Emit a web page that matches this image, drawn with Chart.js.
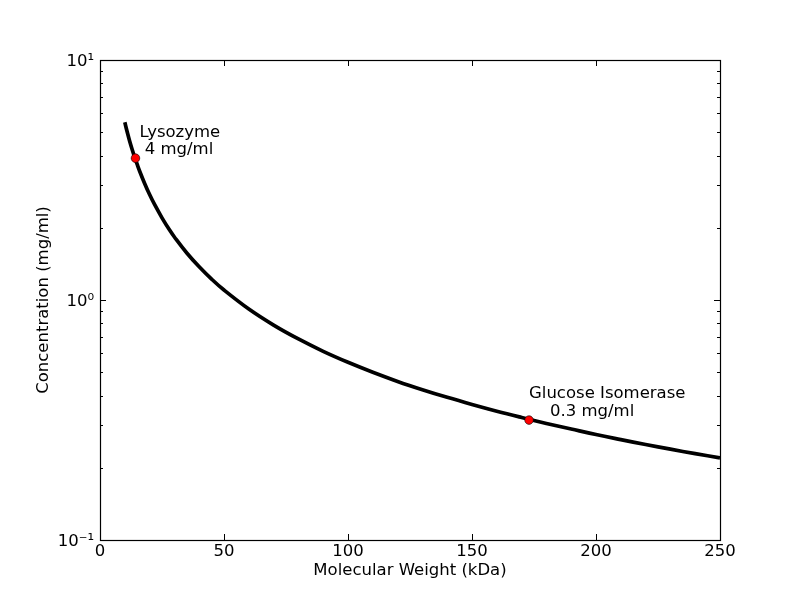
<!DOCTYPE html>
<html>
<head>
<meta charset="utf-8">
<script src="https://cdn.jsdelivr.net/npm/chart.js@4"></script>
<style>
  body { margin: 0; background: #fff; }
  #wrap { width: 800px; height: 600px; }
</style>
</head>
<body>
<div id="wrap"><canvas id="myChart" width="800" height="600"></canvas></div>
<script>
// curve (kDa -> mg/ml)
const curveWeights = [10, 11, 12, 13, 14, 15, 16, 18, 20, 22, 25, 28, 30, 35, 40, 45, 50, 60, 70, 80, 90, 100,
    110, 120, 130, 140, 150, 160, 170, 180, 190, 200, 210, 220, 230, 240, 250];
const curveConc = [5.5, 5.0, 4.58, 4.23, 3.93, 3.67, 3.44, 3.06, 2.75, 2.5, 2.2, 1.96, 1.83, 1.57, 1.375, 1.222, 1.1, 0.917, 0.786, 0.688, 0.611, 0.55,
    0.5, 0.458, 0.423, 0.393, 0.367, 0.344, 0.324, 0.306, 0.29, 0.275, 0.262, 0.25, 0.239, 0.229, 0.22];

// marked proteins
const proteinNames = ['Lysozyme', 'Glucose Isomerase'];
const proteinLabels = [' 4 mg/ml', '    0.3 mg/ml'];
const proteinWeights = [14.3, 173];
const proteinConc = [3.9, 0.316];

// axis ticks
const xTicks = [0, 50, 100, 150, 200, 250];
const yTickValues = [0.1, 0.2, 0.3, 0.4, 0.5, 0.6, 0.7, 0.8, 0.9, 1, 2, 3, 4, 5, 6, 7, 8, 9, 10];
const yMajorValues = [0.1, 1, 10];
const yMajorLabels = ['10\u207B\u00B9', '10\u2070', '10\u00B9'];

// pixel offsets of the annotation text from its point
const labelOffsets = [
    { dx: 4, dy: -21, gap: 16.5 },
    { dx: 0, dy: -22, gap: 18 },
];

const FONT = 'DejaVu Sans';
const FONT_SIZE = 16.5;
Chart.defaults.font.family = FONT;
Chart.defaults.font.size = FONT_SIZE;
Chart.defaults.color = '#000';

const frameAndTicks = {
    id: 'frameAndTicks',
    afterDatasetsDraw(chart) {
        const { ctx, chartArea: a, scales } = chart;
        ctx.save();
        ctx.strokeStyle = '#000';
        ctx.lineWidth = 1;
        ctx.beginPath();
        scales.x.ticks.forEach(t => {
            const px = Math.round(scales.x.getPixelForValue(t.value)) + 0.5;
            ctx.moveTo(px, a.bottom); ctx.lineTo(px, a.bottom - 6);
            ctx.moveTo(px, a.top); ctx.lineTo(px, a.top + 6);
        });
        scales.y.ticks.forEach(t => {
            const py = Math.round(scales.y.getPixelForValue(t.value)) + 0.5;
            const len = yMajorValues.some(v => Math.abs(v - t.value) < 1e-9) ? 6 : 3;
            ctx.moveTo(a.left, py); ctx.lineTo(a.left + len, py);
            ctx.moveTo(a.right, py); ctx.lineTo(a.right - len, py);
        });
        ctx.stroke();
        ctx.lineWidth = 1.2;
        ctx.strokeRect(Math.round(a.left) + 0.5, Math.round(a.top) + 0.5,
            Math.round(a.right - a.left), Math.round(a.bottom - a.top));

        // annotations
        ctx.fillStyle = '#000';
        ctx.font = FONT_SIZE + 'px "' + FONT + '"';
        ctx.textAlign = 'left';
        ctx.textBaseline = 'alphabetic';
        proteinNames.forEach((name, i) => {
            const px = scales.x.getPixelForValue(proteinWeights[i]) + labelOffsets[i].dx;
            const py = scales.y.getPixelForValue(proteinConc[i]) + labelOffsets[i].dy;
            ctx.fillText(name, px, py);
            ctx.fillText(proteinLabels[i], px, py + labelOffsets[i].gap);
        });
        ctx.restore();
    },
};

const createChart = () => {
    const ctx = document.getElementById('myChart').getContext('2d');
    new Chart(ctx, {
        type: 'scatter',
        data: {
            datasets: [
                {
                    label: 'curve',
                    data: curveWeights.map((w, i) => ({ x: w, y: curveConc[i] })),
                    showLine: true,
                    borderColor: '#000',
                    borderWidth: 3.7,
                    pointRadius: 0,
                    tension: 0.4,
                    order: 2,
                },
                {
                    label: 'proteins',
                    data: proteinWeights.map((w, i) => ({ x: w, y: proteinConc[i] })),
                    showLine: false,
                    backgroundColor: '#ff0000',
                    borderColor: '#000',
                    borderWidth: 0.6,
                    pointRadius: 4.3,
                    order: 1,
                },
            ],
        },
        options: {
            responsive: false,
            animation: false,
            layout: { padding: { top: 60, right: 80, left: 0, bottom: 0 } },
            plugins: {
                legend: { display: false },
                tooltip: { enabled: false },
            },
            scales: {
                x: {
                    type: 'linear',
                    min: 0,
                    max: 250,
                    afterBuildTicks: s => { s.ticks = xTicks.map(v => ({ value: v })); },
                    afterFit: s => { s.height = 60; },
                    grid: { display: false, drawTicks: false },
                    border: { display: false },
                    ticks: { padding: 2, maxRotation: 0, autoSkip: false },
                    title: {
                        display: true,
                        text: 'Molecular Weight (kDa)',
                        padding: { top: 0, bottom: 19 },
                    },
                },
                y: {
                    type: 'logarithmic',
                    min: 0.1,
                    max: 10,
                    afterBuildTicks: s => { s.ticks = yTickValues.map(v => ({ value: v })); },
                    afterFit: s => { s.width = 100; },
                    grid: { display: false, drawTicks: false },
                    border: { display: false },
                    ticks: {
                        padding: 6,
                        labelOffset: 2,
                        autoSkip: false,
                        callback: v => {
                            const k = yMajorValues.findIndex(m => Math.abs(m - v) < 1e-9);
                            return k >= 0 ? yMajorLabels[k] : '';
                        },
                    },
                    title: {
                        display: true,
                        text: 'Concentration (mg/ml)',
                        padding: { top: 34, bottom: 0 },
                    },
                },
            },
        },
        plugins: [frameAndTicks],
    });
};

window.onload = () => {
    createChart();
};
</script>
</body>
</html>
